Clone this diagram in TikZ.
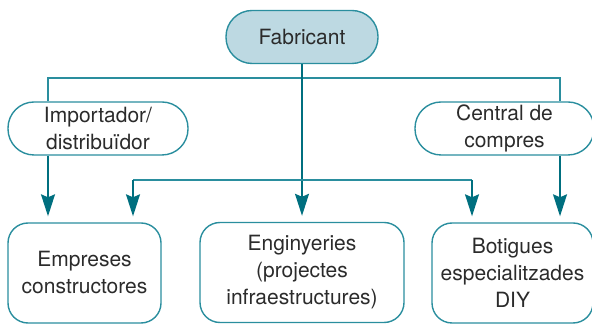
\documentclass[tikz,border=0pt]{standalone}
\usepackage{fontspec}
\setmainfont{TeX Gyre Heros}
\usetikzlibrary{arrows.meta}
\definecolor{linkteal}{HTML}{2A8E9E}
\definecolor{arrowteal}{HTML}{006F7F}
\definecolor{fabfill}{HTML}{BDD9E2}
\definecolor{txtgray}{HTML}{2B2B2B}
\newcommand{\boxfont}{\fontsize{10.5}{13.5}\selectfont}

\begin{document}
\begin{tikzpicture}[x=0.5pt,y=-0.5pt,
	pill/.style={draw=linkteal, line width=0.7pt, rounded corners=13pt,
		minimum height=26.5pt, inner sep=0pt, align=center, text=txtgray, font=\boxfont},
	outlet/.style={draw=linkteal, line width=0.7pt, rounded corners=10pt,
		minimum height=50pt, inner sep=0pt, align=center, text=txtgray, font=\boxfont},
	link/.style={draw=linkteal, line width=0.7pt},
	arr/.style={link, -{Stealth[length=11pt,width=7pt,inset=1.5pt]}, shorten >=3pt, arrowteal}]
	\useasboundingbox (0,0) rectangle (592,324);

	\node[pill, fill=fabfill, minimum width=76pt] (fab) at (302,37) {Fabricant};
	\node[pill, minimum width=90pt] (imp) at (98,128.5) {Importador/\\distribuïdor};
	\node[pill, minimum width=89.5pt] (cen) at (504.5,128.5) {Central de\\compres};

	\node[outlet, minimum width=76.5pt] (emp) at (84.5,273) {Empreses\\constructores};
	\node[outlet, minimum width=102pt] (eng) at (302,272.5) {Enginyeries\\(projectes\\infraestructures)};
	\node[outlet, minimum width=80.5pt] (bot) at (512.5,273) {Botigues\\especialitzades\\DIY};

	\coordinate (hl) at (48,78);
	\coordinate (hr) at (560,78);
	\coordinate (ml) at (133,180);
	\coordinate (mr) at (472,180);

	% upper branch
	\draw[link] (imp.north -| hl) -- (hl) -- (hr) -- (cen.north -| hr);
	\draw[arr] (fab.south) -- (eng.north);
	\draw[arr] (imp.south -| hl) -- (emp.north -| hl);
	\draw[arr] (cen.south -| hr) -- (bot.north -| hr);

	% lower branch
	\draw[link] (ml) -- (mr);
	\draw[arr] (ml) -- (emp.north -| ml);
	\draw[arr] (mr) -- (bot.north -| mr);
\end{tikzpicture}
\end{document}
